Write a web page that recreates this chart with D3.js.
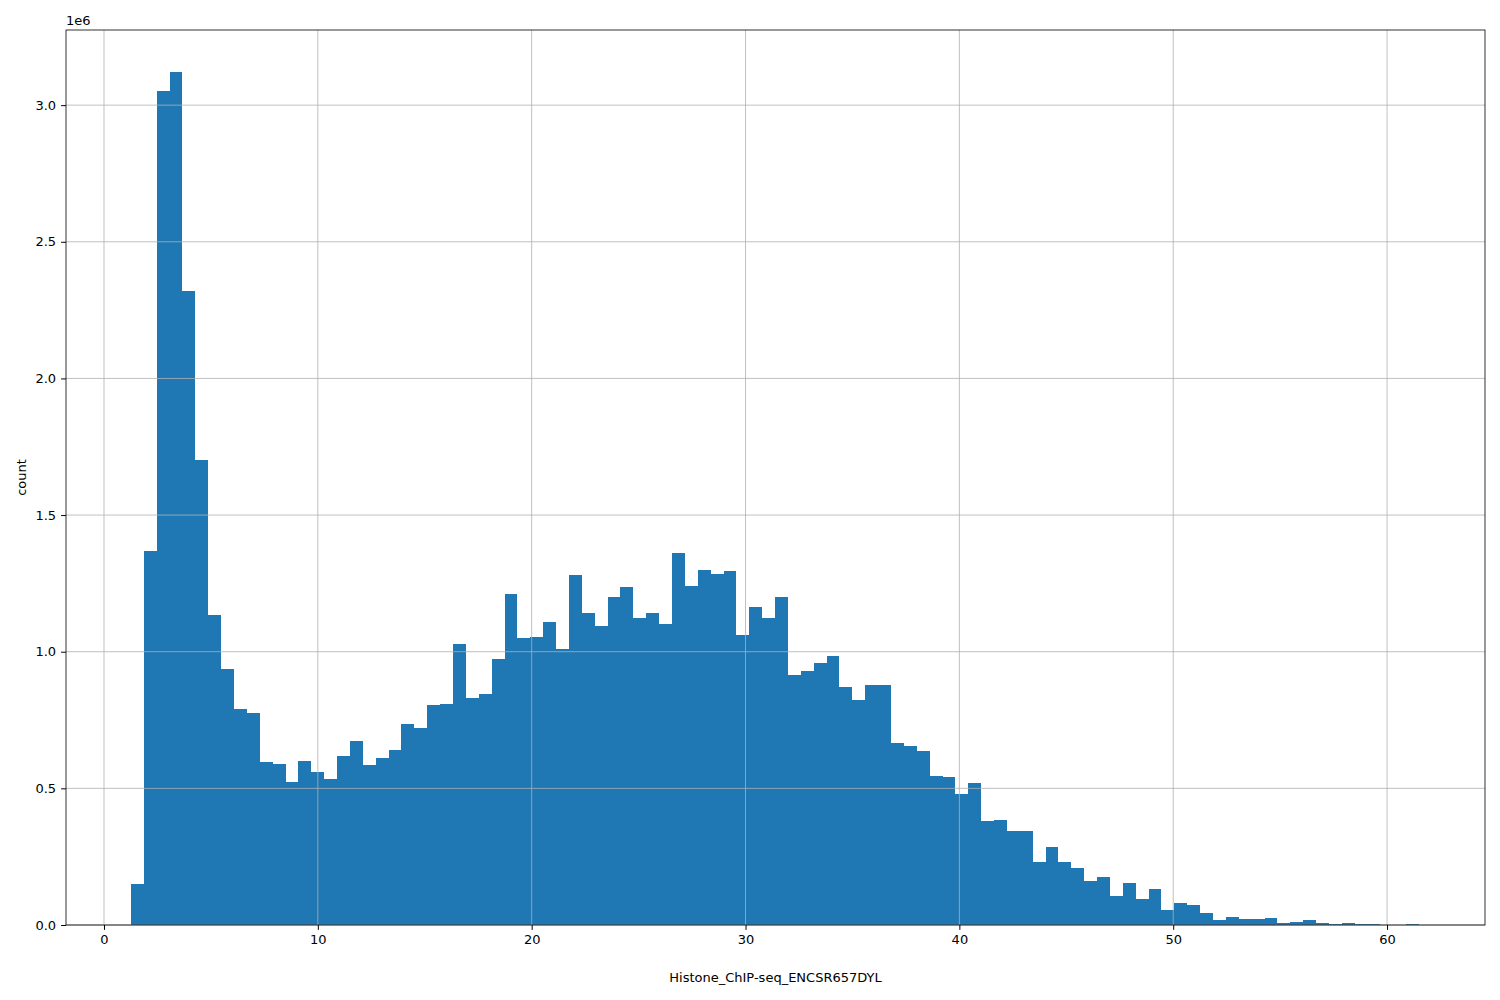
<!DOCTYPE html>
<html><head><meta charset="utf-8">
<script src="https://cdn.jsdelivr.net/npm/d3@7/dist/d3.min.js"></script>
<style>body{margin:0;background:#fff}text{font-family:"DejaVu Sans",sans-serif}</style>
</head><body><svg id="c" width="1500" height="1000"></svg>
<script>
const binStart = 1.26;
const binEnd = 61.5;
const counts = [0.15,1.37,3.05,3.12,2.32,1.70,1.135,0.935,0.79,0.775,
0.595,0.59,0.525,0.60,0.56,0.535,0.62,0.675,0.585,0.61,
0.64,0.735,0.72,0.805,0.81,1.03,0.83,0.845,0.975,1.21,
1.05,1.055,1.11,1.01,1.28,1.14,1.095,1.20,1.235,1.125,
1.14,1.10,1.36,1.24,1.30,1.285,1.295,1.06,1.165,1.125,
1.20,0.915,0.93,0.96,0.985,0.87,0.825,0.88,0.88,0.665,
0.655,0.635,0.545,0.54,0.48,0.52,0.38,0.385,0.345,0.345,
0.23,0.285,0.23,0.21,0.16,0.175,0.105,0.155,0.095,0.13,
0.055,0.08,0.075,0.045,0.02,0.028,0.022,0.022,0.025,0.008,
0.012,0.018,0.008,0.004,0.006,0.003,0.003,0.001,0.0005,0.004].map(v=>v*1e6);
const xTicks = [0,10,20,30,40,50,60];
const yTicks = [0,0.5e6,1e6,1.5e6,2e6,2.5e6,3e6];
const L=66,R=1485,T=30,B=925;
const svg=d3.select("#c");
const x=d3.scaleLinear().domain([-1.777,64.58]).range([L,R]);
const y=d3.scaleLinear().domain([0,3.275e6]).range([B,T]);
const w=(binEnd-binStart)/counts.length;
svg.append("g").selectAll("rect").data(counts).join("rect")
 .attr("x",(d,i)=>x(binStart+i*w)).attr("width",(d,i)=>x(binStart+(i+1)*w)-x(binStart+i*w))
 .attr("y",d=>y(d)).attr("height",d=>B-y(d)).attr("fill","#1f77b4").attr("shape-rendering","crispEdges");
svg.append("g").selectAll("line").data(xTicks).join("line").attr("x1",d=>x(d)).attr("x2",d=>x(d)).attr("y1",T).attr("y2",B).attr("stroke","#b0b0b0").attr("stroke-width",0.8);
svg.append("g").selectAll("line").data(yTicks).join("line").attr("y1",d=>y(d)).attr("y2",d=>y(d)).attr("x1",L).attr("x2",R).attr("stroke","#b0b0b0").attr("stroke-width",0.8);
const xa=svg.append("g").attr("transform",`translate(0,${B})`).call(d3.axisBottom(x).tickValues(xTicks).tickSize(4.9).tickPadding(5).tickFormat(d3.format("d")));
const ya=svg.append("g").attr("transform",`translate(${L},0)`).call(d3.axisLeft(y).tickValues(yTicks).tickSize(4.9).tickPadding(5).tickFormat(d=>(d/1e6).toFixed(1)));
[xa,ya].forEach(a=>{a.selectAll("text").attr("font-size",13).attr("font-family","DejaVu Sans").attr("fill","#000");a.select(".domain").remove();a.selectAll("line").attr("stroke","#000");});
svg.append("rect").attr("x",L).attr("y",T).attr("width",R-L).attr("height",B-T).attr("fill","none").attr("stroke","#000").attr("stroke-width",0.8);
svg.append("text").attr("x",L).attr("y",T-5).attr("font-size",13).text("1e6");
svg.append("text").attr("x",(L+R)/2).attr("y",982).attr("text-anchor","middle").attr("font-size",13).text("Histone_ChIP-seq_ENCSR657DYL");
svg.append("text").attr("transform",`translate(26,${(T+B)/2}) rotate(-90)`).attr("text-anchor","middle").attr("font-size",13).text("count");
</script></body></html>
